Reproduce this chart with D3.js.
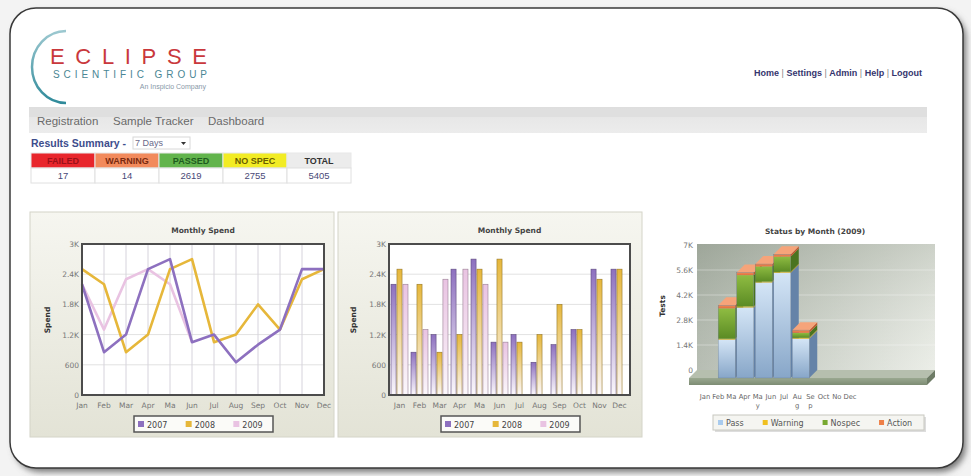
<!DOCTYPE html>
<html>
<head>
<meta charset="utf-8">
<script src="https://cdn.jsdelivr.net/npm/d3@7"></script>
<style>
  body { margin: 0; background: #f2f2f2; }
  svg { display: block; }
  text { font-family: "DejaVu Sans", Verdana, sans-serif; }
</style>
</head>
<body>
<svg id="page" width="971" height="476"></svg>
<script>
// ---- data ----
const months = ['Jan', 'Feb', 'Mar', 'Apr', 'May', 'Jun', 'Jul', 'Aug', 'Sep', 'Oct', 'Nov', 'Dec'];
const monthLabels = ['Jan', 'Feb', 'Mar', 'Apr', 'Ma', 'Jun', 'Jul', 'Aug', 'Sep', 'Oct', 'Nov', 'Dec'];
const statusLabels = ['Jan', 'Feb', 'Ma', 'Apr', 'Ma\ny', 'Jun', 'Jul', 'Au\ng', 'Se\np', 'Oct', 'No', 'Dec'];

const years = ['2007', '2008', '2009'];
const spend2007 = [2200, 850, 1200, 2500, 2700, 1050, 1200, 650, 1000, 1300, 2500, 2500];
const spend2008 = [2500, 2200, 850, 1200, 2500, 2700, 1050, 1200, 1800, 1300, 2300, 2500];
const spend2009 = [2200, 1300, 2300, 2500, 2200, 1050, null, null, null, null, null, null];

const statusKeys = ['Pass', 'Warning', 'Nospec', 'Action'];
const pass2009    = [0, 2150, 3950, 5350, 5900, 2200, 0, 0, 0, 0, 0, 0];
const warning2009 = [0, 50, 60, 50, 50, 50, 0, 0, 0, 0, 0, 0];
const nospec2009  = [0, 1700, 1750, 850, 850, 280, 0, 0, 0, 0, 0, 0];
const action2009  = [0, 170, 150, 130, 130, 150, 0, 0, 0, 0, 0, 0];

const summaryHeads = ['FAILED', 'WARNING', 'PASSED', 'NO SPEC', 'TOTAL'];
const summaryValues = [17, 14, 2619, 2755, 5405];
const navItems = ['Registration', 'Sample Tracker', 'Dashboard'];
const links = ['Home', 'Settings', 'Admin', 'Help', 'Logout'];

// ---- styles ----
const yearColors = { '2007': '#8d70bf', '2008': '#e6b73a', '2009': '#e9c3e2' };
const statusColors = {
  Pass:    { front: ['#d4e5f6', '#87a6c8'], side: '#6583a8', top: '#e2eefa', key: '#a9cbee' },
  Warning: { front: ['#f0cf3c', '#d8b020'], side: '#b0901c', top: '#f6dc60', key: '#f0c020' },
  Nospec:  { front: ['#8fbc42', '#5b8b24'], side: '#4a7420', top: '#a8d05c', key: '#78a830' },
  Action:  { front: ['#ee8a58', '#e07040'], side: '#c0582e', top: '#f6a47a', key: '#ee8048' }
};
const headFills = ['#e8262c', '#f28a5c', '#62b44c', '#f2ec24', '#ececec'];
const headInk = ['#9a1018', '#7a2a10', '#1e5a1e', '#6a5e00', '#333'];

const svg = d3.select('#page');
const defs = svg.append('defs');

function grad(id, c0, c1, x2 = 0, y2 = 1) {
  const g = defs.append('linearGradient').attr('id', id)
    .attr('x1', 0).attr('y1', 0).attr('x2', x2).attr('y2', y2);
  g.append('stop').attr('offset', '0%').attr('stop-color', c0);
  g.append('stop').attr('offset', '100%').attr('stop-color', c1);
  return `url(#${id})`;
}

defs.append('filter').attr('id', 'blur').attr('x', -0.1).attr('y', -0.1).attr('width', 1.2).attr('height', 1.2)
  .append('feGaussianBlur').attr('stdDeviation', 3);

// ---- page frame ----
svg.append('rect').attr('width', 971).attr('height', 476).attr('fill', '#f3f3f3');
svg.append('rect')
  .attr('x', 14).attr('y', 12).attr('width', 952).attr('height', 460).attr('rx', 26)
  .attr('fill', '#777').attr('filter', 'url(#blur)');
svg.append('rect')
  .attr('x', 10).attr('y', 8).attr('width', 953).attr('height', 460).attr('rx', 26)
  .attr('fill', '#fff').attr('stroke', '#3a3a3a').attr('stroke-width', 1.5);

// ---- logo ----
svg.append('path')
  .attr('d', 'M66,31 A34,36 0 0 0 66,103')
  .attr('fill', 'none').attr('stroke', grad('arcGrad', '#9cc8d0', '#2f8a9a')).attr('stroke-width', 2.5);
svg.append('text').attr('x', 50).attr('y', 63.5).text('ECLIPSE')
  .attr('textLength', 157).attr('lengthAdjust', 'spacing')
  .style('font-family', '"Liberation Sans", Arial, sans-serif')
  .style('font-size', '22px').style('fill', '#c9383c');
svg.append('text').attr('x', 53).attr('y', 78).text('SCIENTIFIC GROUP')
  .attr('textLength', 154).attr('lengthAdjust', 'spacing')
  .style('font-family', '"Liberation Sans", Arial, sans-serif')
  .style('font-size', '10px').style('fill', '#4a8694');
svg.append('text').attr('x', 206).attr('y', 89).attr('text-anchor', 'end').text('An Inspicio Company')
  .style('font-family', '"Liberation Sans", Arial, sans-serif')
  .style('font-size', '7px').style('fill', '#8898a8');

// ---- header links ----
const linkText = svg.append('text').attr('x', 922).attr('y', 76).attr('text-anchor', 'end')
  .style('font-family', '"Liberation Sans", Arial, sans-serif')
  .style('font-size', '9px').style('font-weight', 'bold');
links.forEach((l, i) => {
  if (i > 0) linkText.append('tspan').text(' | ').style('fill', '#888').style('font-weight', 'normal');
  linkText.append('tspan').text(l).style('fill', '#35356e');
});

// ---- nav bar ----
svg.append('rect').attr('x', 29).attr('y', 107).attr('width', 898).attr('height', 26)
  .attr('fill', grad('navGrad', '#e4e4e4', '#ececec'));
svg.append('rect').attr('x', 29).attr('y', 107).attr('width', 898).attr('height', 10)
  .attr('fill', '#dadada').attr('opacity', 0.6);
const navX = d3.scalePoint().domain(navItems).range([37, 208]);
svg.selectAll('.nav').data(navItems).join('text')
  .attr('class', 'nav')
  .attr('x', d => d === 'Sample Tracker' ? 113 : navX(d))
  .attr('y', 125).text(d => d)
  .style('font-family', '"Liberation Sans", Arial, sans-serif')
  .style('font-size', '11.5px').style('fill', '#6a6a6a');

// ---- results summary ----
svg.append('text').attr('x', 31).attr('y', 147).text('Results Summary -')
  .style('font-family', '"Liberation Sans", Arial, sans-serif')
  .style('font-size', '10.5px').style('font-weight', 'bold').style('fill', '#3d4d8c');
svg.append('rect').attr('x', 133).attr('y', 137).attr('width', 57).attr('height', 12)
  .attr('fill', '#fff').attr('stroke', '#d8d8d8');
svg.append('text').attr('x', 135).attr('y', 146).text('7 Days')
  .style('font-family', '"Liberation Sans", Arial, sans-serif')
  .style('font-size', '9px').style('fill', '#6a6a8a');
svg.append('path').attr('d', 'M181,142 l5,0 l-2.5,3 z').attr('fill', '#333');

const colX = d3.scaleBand().domain(summaryHeads).range([31, 351]);
const table = svg.append('g');
table.selectAll('.hd').data(summaryHeads).join('rect')
  .attr('x', d => colX(d)).attr('y', 153).attr('width', colX.bandwidth()).attr('height', 15)
  .attr('fill', (d, i) => headFills[i]).attr('stroke', '#e8e8e8');
table.selectAll('.vl').data(summaryHeads).join('rect')
  .attr('x', d => colX(d)).attr('y', 168).attr('width', colX.bandwidth()).attr('height', 15)
  .attr('fill', '#fff').attr('stroke', '#e0e0e0');
table.selectAll('.ht').data(summaryHeads).join('text')
  .attr('x', d => colX(d) + colX.bandwidth() / 2).attr('y', 164).attr('text-anchor', 'middle')
  .text(d => d)
  .style('font-family', '"Liberation Sans", Arial, sans-serif')
  .style('font-size', '9px').style('font-weight', 'bold').style('fill', (d, i) => headInk[i]);
table.selectAll('.vt').data(summaryValues).join('text')
  .attr('x', (d, i) => colX(summaryHeads[i]) + colX.bandwidth() / 2).attr('y', 179).attr('text-anchor', 'middle')
  .text(d => d)
  .style('font-family', '"Liberation Sans", Arial, sans-serif')
  .style('font-size', '9.5px').style('fill', '#4a4a78');

// ---- shared helpers ----
const kFormat = v => v === 0 ? '0' : v >= 1000 ? (v / 1000) + 'K' : String(v);

// lay legend items out one after another, using the real text widths
function flowLegend(items, x0, gap) {
  let x = x0;
  items.each(function () {
    const item = d3.select(this);
    item.attr('transform', `translate(${x},0)`);
    x += 8 + item.select('text').node().getComputedTextLength() + gap;
  });
}

function spendPanel(px, plot) {
  const g = svg.append('g');
  g.append('rect').attr('x', px).attr('y', 212).attr('width', 304).attr('height', 225)
    .attr('fill', 'url(#panelGrad)').attr('stroke', '#d4d4c8');
  const x0 = plot.left, x1 = plot.right;
  const y = d3.scaleLinear().domain([0, 3000]).range([395, 244]);
  g.append('rect').attr('x', x0).attr('y', 244).attr('width', x1 - x0).attr('height', 151).attr('fill', '#fff');
  g.selectAll('.hg').data([600, 1200, 1800, 2400]).join('line')
    .attr('x1', x0).attr('x2', x1).attr('y1', d => y(d)).attr('y2', d => y(d))
    .attr('stroke', '#e2e2e2');
  const ax = g.append('g').attr('transform', `translate(${x0 - 2},0)`)
    .call(d3.axisLeft(y).tickValues([0, 600, 1200, 1800, 2400, 3000]).tickFormat(kFormat).tickSize(0).tickPadding(1));
  ax.select('.domain').remove();
  ax.selectAll('text').style('font-size', '7.5px').style('fill', '#777').style('font-family', '"DejaVu Sans", sans-serif');
  g.append('text').attr('x', (x0 + x1) / 2).attr('y', 233).attr('text-anchor', 'middle').text('Monthly Spend')
    .style('font-size', '7.5px').style('font-weight', 'bold').style('fill', '#444');
  g.append('text').attr('transform', `translate(${plot.label},320) rotate(-90)`).attr('text-anchor', 'middle')
    .text('Spend').style('font-size', '7.5px').style('font-weight', 'bold').style('fill', '#333');
  return { g, y };
}

function spendLegend(g, x0, x1) {
  g.append('rect').attr('x', x0).attr('y', 416).attr('width', x1 - x0).attr('height', 16)
    .attr('fill', '#fbfbf8').attr('stroke', '#555').attr('stroke-width', 1.5);
  const lx = d3.scaleBand().domain(years).range([x0 + 4, x1 + 8]);
  const it = g.selectAll('.lg').data(years).join('g').attr('transform', d => `translate(${lx(d)},424)`);
  it.append('rect').attr('x', 0).attr('y', -3).attr('width', 6).attr('height', 6).attr('fill', d => yearColors[d]);
  it.append('text').attr('x', 9).attr('y', 3.5).text(d => d)
    .style('font-size', '8px').style('fill', '#444');
}

grad('panelGrad', '#f6f6f0', '#e3e3d6');

// ---- chart 1 : line ----
{
  const { g, y } = spendPanel(30, { left: 82, right: 324, label: 50 });
  const x = d3.scalePoint().domain(months).range([82, 324]);
  g.selectAll('.vg').data(months).join('line')
    .attr('x1', d => x(d)).attr('x2', d => x(d)).attr('y1', 244).attr('y2', 395)
    .attr('stroke', '#d6d3dc');
  const series = [['2009', spend2009], ['2008', spend2008], ['2007', spend2007]];
  const line = d3.line().defined(d => d != null).x((d, i) => x(months[i])).y(d => y(d));
  g.selectAll('.ln').data(series).join('path')
    .attr('d', d => line(d[1]))
    .attr('fill', 'none').attr('stroke', d => yearColors[d[0]])
    .attr('stroke-width', 2.6).attr('stroke-linejoin', 'round');
  g.append('rect').attr('x', 82).attr('y', 244).attr('width', 242).attr('height', 151)
    .attr('fill', 'none').attr('stroke', '#4c4c4c').attr('stroke-width', 2);
  g.selectAll('.xl').data(monthLabels).join('text')
    .attr('x', (d, i) => x(months[i])).attr('y', 408).attr('text-anchor', 'middle').text(d => d)
    .style('font-size', '7.5px').style('fill', '#777');
  spendLegend(g, 134, 273);
}

// ---- chart 2 : grouped bars ----
{
  const { g, y } = spendPanel(338, { left: 389, right: 630, label: 356 });
  const x = d3.scaleBand().domain(months).range([389, 630]).paddingInner(0.15).paddingOuter(0.1);
  const xs = d3.scaleBand().domain(years).range([0, x.bandwidth()]).paddingInner(0.15);
  years.forEach(yr => grad('bar' + yr, yearColors[yr], '#fbf8fb'));
  const data = { '2007': spend2007, '2008': spend2008, '2009': spend2009 };
  const grp = g.selectAll('.grp').data(months).join('g').attr('transform', d => `translate(${x(d)},0)`);
  grp.selectAll('rect').data((m, i) => years.map(yr => ({ yr, v: data[yr][i] })).filter(d => d.v != null))
    .join('rect')
    .attr('x', d => xs(d.yr)).attr('width', xs.bandwidth())
    .attr('y', d => y(d.v)).attr('height', d => y(0) - y(d.v))
    .attr('fill', d => `url(#bar${d.yr})`)
    .attr('stroke', d => d3.color(yearColors[d.yr]).darker(1.2)).attr('stroke-width', 0.6);
  g.append('rect').attr('x', 389).attr('y', 244).attr('width', 241).attr('height', 151)
    .attr('fill', 'none').attr('stroke', '#4c4c4c').attr('stroke-width', 2);
  g.selectAll('.xl').data(monthLabels).join('text')
    .attr('x', (d, i) => x(months[i]) + x.bandwidth() / 2).attr('y', 408).attr('text-anchor', 'middle').text(d => d)
    .style('font-size', '7.5px').style('fill', '#777');
  spendLegend(g, 441, 580);
}

// ---- chart 3 : 3D stacked ----
{
  const g = svg.append('g');
  const depth = 8;
  const x = d3.scaleBand().domain(months).range([699, 921]).paddingInner(0.08).paddingOuter(0.04);
  const yBack = d3.scaleLinear().domain([0, 7000]).range([370, 245]);
  const yFront = v => yBack(v) + depth;

  // back wall
  g.append('rect').attr('x', 697).attr('y', 244).attr('width', 238).attr('height', 126)
    .attr('fill', grad('wallGrad', '#aab2a6', '#e8ebe4', 1, 0));
  g.append('rect').attr('x', 697).attr('y', 244).attr('width', 238).attr('height', 126)
    .attr('fill', grad('wallShade', 'rgba(120,130,115,0.25)', 'rgba(255,255,255,0.15)'));
  g.selectAll('.wg').data([1400, 2800, 4200, 5600]).join('line')
    .attr('x1', 697).attr('x2', 935).attr('y1', d => yBack(d)).attr('y2', d => yBack(d))
    .attr('stroke', '#ffffff').attr('stroke-opacity', 0.35);

  // floor slab
  const f0 = 689, f1 = 927, fy = yBack(0) + depth;
  g.append('path').attr('d', `M${f0},${fy} L${f1},${fy} L${f1 + depth},${fy - depth} L${f0 + depth},${fy - depth} Z`)
    .attr('fill', '#b6bfae');
  g.append('rect').attr('x', f0).attr('y', fy).attr('width', f1 - f0).attr('height', 7)
    .attr('fill', grad('floorGrad', '#9aa890', '#7d8c74'));
  g.append('path').attr('d', `M${f1},${fy} L${f1 + depth},${fy - depth} L${f1 + depth},${fy - depth + 7} L${f1},${fy + 7} Z`)
    .attr('fill', '#6e7c66');

  const stacks = { Pass: pass2009, Warning: warning2009, Nospec: nospec2009, Action: action2009 };
  statusKeys.forEach(k => grad('front' + k, statusColors[k].front[0], statusColors[k].front[1]));
  const w = x.bandwidth();
  months.forEach((m, i) => {
    const x0 = x(m);
    let base = 0;
    const total = statusKeys.reduce((s, k) => s + stacks[k][i], 0);
    if (!total) return;
    statusKeys.forEach(k => {
      const v = stacks[k][i];
      if (!v) return;
      const yb = yFront(base), yt = yFront(base + v);
      g.append('path')
        .attr('d', `M${x0 + w},${yb} L${x0 + w + depth},${yb - depth} L${x0 + w + depth},${yt - depth} L${x0 + w},${yt} Z`)
        .attr('fill', statusColors[k].side);
      g.append('rect').attr('x', x0).attr('y', yt).attr('width', w).attr('height', yb - yt)
        .attr('fill', `url(#front${k})`);
      base += v;
    });
    const top = statusKeys.filter(k => stacks[k][i]).pop();
    const yt = yFront(total);
    g.append('path')
      .attr('d', `M${x0},${yt} L${x0 + depth},${yt - depth} L${x0 + w + depth},${yt - depth} L${x0 + w},${yt} Z`)
      .attr('fill', statusColors[top].top);
    g.append('rect').attr('x', x0).attr('y', yt).attr('width', w).attr('height', yFront(0) - yt)
      .attr('fill', 'none').attr('stroke', '#5d6f86').attr('stroke-width', 0.5).attr('stroke-opacity', 0.6);
  });

  const ax = g.append('g').attr('transform', 'translate(694,0)')
    .call(d3.axisLeft(yBack).tickValues([0, 1400, 2800, 4200, 5600, 7000]).tickFormat(kFormat).tickSize(0).tickPadding(1));
  ax.select('.domain').remove();
  ax.selectAll('text').style('font-size', '7.5px').style('fill', '#777').style('font-family', '"DejaVu Sans", sans-serif');

  g.append('text').attr('x', 815).attr('y', 234).attr('text-anchor', 'middle').text('Status by Month (2009)')
    .style('font-size', '7.5px').style('font-weight', 'bold').style('fill', '#444');
  g.append('text').attr('transform', 'translate(665,306) rotate(-90)').attr('text-anchor', 'middle').text('Tests')
    .style('font-size', '7.5px').style('font-weight', 'bold').style('fill', '#333');

  const lx = d3.scalePoint().domain(months).range([705, 850]);
  const xl = g.selectAll('.xl').data(statusLabels).join('text')
    .attr('y', 399).attr('text-anchor', 'middle')
    .style('font-size', '6.8px').style('fill', '#666');
  xl.each(function (d, i) {
    d.split('\n').forEach((part, j) => {
      d3.select(this).append('tspan').attr('x', lx(months[i])).attr('dy', j ? 9 : 0).text(part);
    });
  });

  g.append('rect').attr('x', 715).attr('y', 417).attr('width', 211).attr('height', 15)
    .attr('fill', '#bbb').attr('opacity', 0.5);
  g.append('rect').attr('x', 713).attr('y', 415).attr('width', 211).attr('height', 15)
    .attr('fill', '#f5f5f1').attr('stroke', '#c8c8c0');
  const it = g.append('g').attr('transform', 'translate(0,422.5)')
    .selectAll('.lg').data(statusKeys).join('g');
  it.append('rect').attr('x', 0).attr('y', -2.5).attr('width', 5).attr('height', 5).attr('fill', d => statusColors[d].key);
  it.append('text').attr('x', 8).attr('y', 3).text(d => d).style('font-size', '8px').style('fill', '#555');
  flowLegend(it, 718, 19);
}
</script>
</body>
</html>
